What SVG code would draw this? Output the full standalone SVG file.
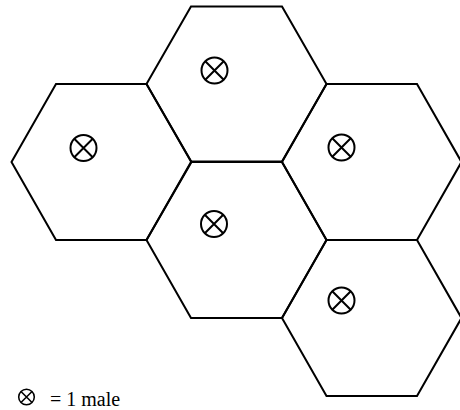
<svg xmlns="http://www.w3.org/2000/svg" width="460" height="410" viewBox="0 0 460 410">
<defs>
<style>
.hex{fill:none;stroke:#000;stroke-width:2;stroke-linejoin:miter}
.sym{fill:none;stroke:#000;stroke-width:2}
.lbl{font-family:"Liberation Serif","DejaVu Serif",serif;font-size:20px;fill:#000}
</style>
<g id="male">
<circle cx="0" cy="0" r="13" class="sym"/>
<path d="M-9.2,-9.2L9.2,9.2M9.2,-9.2L-9.2,9.2" class="sym"/>
</g>
</defs>
<rect width="460" height="410" fill="#fff"/>
<g id="hex-top">
<polygon class="hex" points="191,6.5 282,6.5 326.5,84 282,161.5 191,161.5 146.5,84"/>
<use href="#male" x="214.5" y="70.5"/>
</g>
<g id="hex-left">
<polygon class="hex" points="56,84 146.5,84 191.5,162 146.5,240 56,240 11.5,162"/>
<use href="#male" x="83.5" y="148"/>
</g>
<g id="hex-center">
<polygon class="hex" points="191,162 282,162 326.5,240 282,318 191,318 146.5,240"/>
<use href="#male" x="214" y="224"/>
</g>
<g id="hex-right">
<polygon class="hex" points="326.5,84 417,84 461.5,162 417,240 326.5,240 282,162"/>
<use href="#male" x="341.5" y="147.5"/>
</g>
<g id="hex-bottom-right">
<polygon class="hex" points="326.5,240 417,240 461.5,318 417,396 326.5,396 282,318"/>
<use href="#male" x="341.5" y="300.5"/>
</g>
<g id="legend">
<g transform="translate(26.5,397) scale(0.6)"><circle cx="0" cy="0" r="13" fill="none" stroke="#000" stroke-width="2.6"/><path d="M-9.2,-9.2L9.2,9.2M9.2,-9.2L-9.2,9.2" fill="none" stroke="#000" stroke-width="2.6"/></g>
<text class="lbl" x="50" y="406">= 1 male</text>
</g>
</svg>
